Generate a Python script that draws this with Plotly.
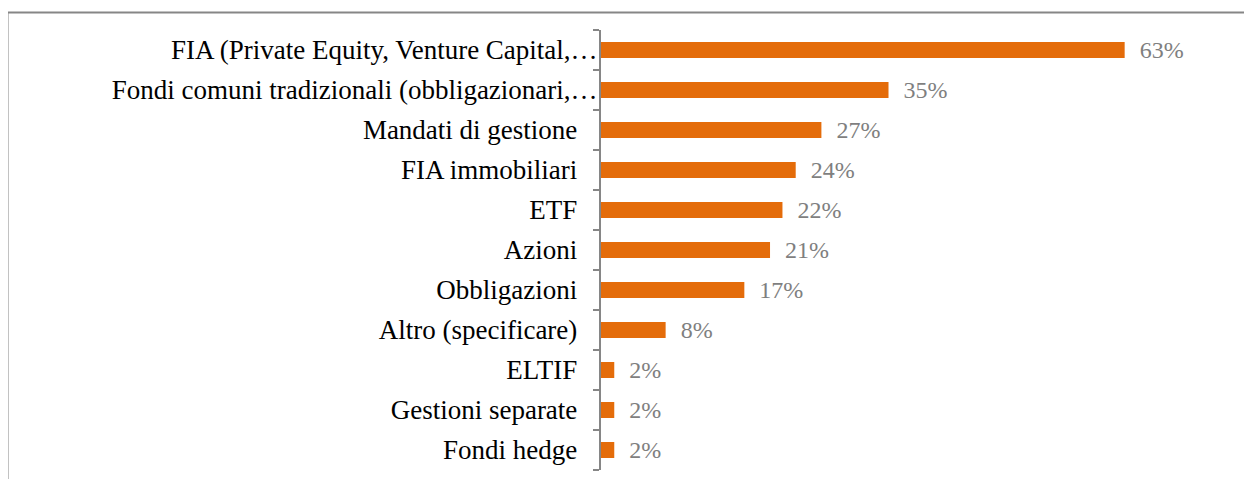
import plotly.graph_objects as go

categories = [
    "FIA (Private Equity, Venture Capital,…",
    "Fondi comuni tradizionali (obbligazionari,…",
    "Mandati di gestione",
    "FIA immobiliari",
    "ETF",
    "Azioni",
    "Obbligazioni",
    "Altro (specificare)",
    "ELTIF",
    "Gestioni separate",
    "Fondi hedge",
]
values = [63.2, 34.7, 26.6, 23.5, 21.9, 20.4, 17.3, 7.8, 1.6, 1.6, 1.6]
value_labels = ["63%", "35%", "27%", "24%", "22%", "21%", "17%", "8%", "2%", "2%", "2%"]

W, H = 1252, 479
# page body adds an 8px offset, compensate in margins
OFF = 8
ML, MR, MT, MB = 601 - OFF, 71 + OFF, 30 - OFF, 9 + OFF
PW, PH = W - ML - MR, H - MT - MB

# untruncated labels keep a gap before the axis; truncated ones overflow to it
display = [c if c.endswith("…") else c + "\u00a0" * 3 for c in categories]

fig = go.Figure(
    go.Bar(
        x=values,
        y=display,
        orientation="h",
        marker=dict(color="#E46C0A", line=dict(width=0)),
        text=["\u00a0\u00a0" + t for t in value_labels],
        textposition="outside",
        constraintext="none",
        textfont=dict(family="Liberation Serif", size=24, color="#7F7F7F"),
        cliponaxis=False,
        width=0.4,
    )
)

def px_to_paper_x(px):
    return (px - OFF - ML) / PW

def px_to_paper_y(py):
    return 1 - (py - OFF - MT) / PH

# outer frame (partially cropped)
fig.add_shape(
    type="rect",
    xref="paper", yref="paper",
    x0=px_to_paper_x(7.5), x1=px_to_paper_x(W + 40),
    y0=px_to_paper_y(H + 40), y1=px_to_paper_y(12.5),
    line=dict(color="#868686", width=2),
    fillcolor="rgba(0,0,0,0)",
    layer="below",
)

fig.update_layout(
    width=W, height=H,
    margin=dict(l=ML, r=MR, t=MT, b=MB),
    paper_bgcolor="white",
    plot_bgcolor="white",
    showlegend=False,
    font=dict(family="Liberation Serif", size=27, color="black"),
    xaxis=dict(
        range=[0, 70],
        visible=False,
        showgrid=False,
        zeroline=False,
    ),
    yaxis=dict(
        categoryorder="array",
        categoryarray=display[::-1],
        autorange=False,
        range=[-0.5, len(categories) - 0.5],
        showline=True,
        linecolor="#868686",
        linewidth=2,
        ticks="outside",
        tickson="boundaries",
        ticklen=6,
        tickwidth=2,
        tickcolor="#868686",
        showgrid=False,
        ticklabelstandoff=-4,
        tickfont=dict(family="Liberation Serif", size=27, color="black"),
    ),
)

fig.write_html("out.html")
